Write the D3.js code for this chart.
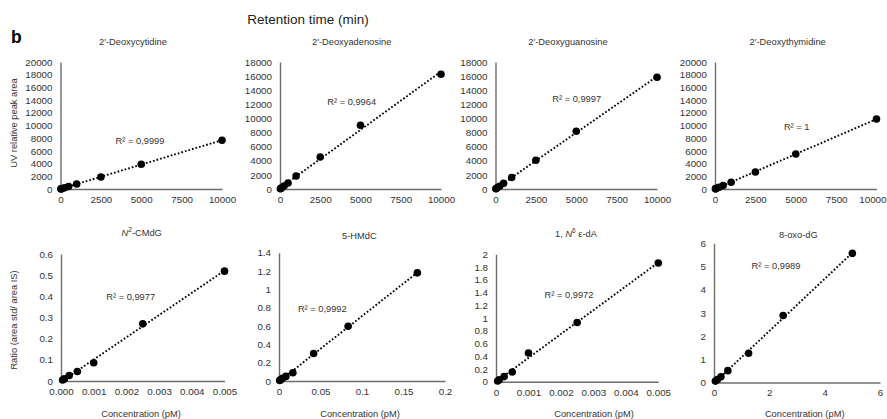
<!DOCTYPE html>
<html><head><meta charset="utf-8">
<script src="https://cdn.jsdelivr.net/npm/d3@7"></script>
<style>
body{margin:0;background:#fff}
text{font-family:"Liberation Sans",Arial,sans-serif}
</style>
</head><body>
<svg id="c" width="887" height="419"></svg>
<script>
// ---------- DATA ----------
const titles = ["2′-Deoxycytidine","2′-Deoxyadenosine","2′-Deoxyguanosine","2′-Deoxythymidine",
                "N²-CMdG","5-HMdC","1, N⁶ ε-dA","8-oxo-dG"];
const r2Labels = ["R² = 0,9999","R² = 0,9964","R² = 0,9997","R² = 1",
                  "R² = 0,9977","R² = 0,9992","R² = 0,9972","R² = 0,9989"];

const xTop = [25, 50, 100, 250, 500, 1000, 2500, 5000, 10000];
const yDC = [19, 38, 77, 190, 385, 790, 1890, 3890, 7670];
const yDA = [40, 80, 170, 420, 850, 1840, 4530, 9030, 16260];
const yDG = [40, 80, 160, 400, 800, 1620, 4070, 8180, 15830];
const yDT = [27, 55, 110, 275, 540, 1055, 2680, 5510, 11020];

const xCMdG = [0.00005, 0.0001, 0.00025, 0.0005, 0.001, 0.0025, 0.005];
const yCMdG = [0.005, 0.01, 0.026, 0.045, 0.086, 0.27, 0.519];
const xHMdC = [0.0008, 0.0017, 0.0042, 0.0083, 0.0167, 0.0417, 0.0833, 0.1667];
const yHMdC = [0.005, 0.012, 0.03, 0.05, 0.09, 0.30, 0.597, 1.18];
const xEdA = [0.00005, 0.0001, 0.00025, 0.0005, 0.001, 0.0025, 0.005];
const yEdA = [0.01, 0.03, 0.08, 0.152, 0.45, 0.93, 1.863];
const xOxo = [0.05, 0.125, 0.25, 0.5, 1.25, 2.5, 5];
const yOxo = [0.06, 0.13, 0.25, 0.51, 1.26, 2.886, 5.57];

const xTicksTop = [0, 2500, 5000, 7500, 10000];
const yTicks20k = [0,2000,4000,6000,8000,10000,12000,14000,16000,18000,20000];
const yTicks18k = [0,2000,4000,6000,8000,10000,12000,14000,16000,18000];
const xTicksCMdG = [0, 0.001, 0.002, 0.003, 0.004, 0.005];
const xLabelsCMdG = ["0.000","0.001","0.002","0.003","0.004","0.005"];
const yTicksCMdG = [0, 0.1, 0.2, 0.3, 0.4, 0.5, 0.6];
const xTicksHMdC = [0, 0.05, 0.1, 0.15, 0.2];
const yTicksHMdC = [0, 0.2, 0.4, 0.6, 0.8, 1, 1.2, 1.4];
const xTicksEdA = [0, 0.001, 0.002, 0.003, 0.004, 0.005];
const yTicksEdA = [0, 0.2, 0.4, 0.6, 0.8, 1, 1.2, 1.4, 1.6, 1.8, 2];
const xTicksOxo = [0, 2, 4, 6];
const yTicksOxo = [0, 1, 2, 3, 4, 5, 6];

const headerText = "Retention time (min)";
const panelLetter = "b";
const yLabelTop = "UV relative peak area";
const yLabelBottom = "Ratio (area std/ area IS)";
const xLabelBottom = "Concentration (pM)";

// ---------- PANELS (data binding) ----------
const panels = [
  {x: xTop, y: yDC, xd:[0,10000], yd:[0,20000], xt:xTicksTop, yt:yTicks20k},
  {x: xTop, y: yDA, xd:[0,10000], yd:[0,18000], xt:xTicksTop, yt:yTicks18k},
  {x: xTop, y: yDG, xd:[0,10000], yd:[0,18000], xt:xTicksTop, yt:yTicks18k},
  {x: xTop, y: yDT, xd:[0,10000], yd:[0,20000], xt:xTicksTop, yt:yTicks20k, lastFit:true},
  {x: xCMdG, y: yCMdG, xd:[0,0.005], yd:[0,0.6], xt:xTicksCMdG, xl:xLabelsCMdG, yt:yTicksCMdG},
  {x: xHMdC, y: yHMdC, xd:[0,0.2], yd:[0,1.4], xt:xTicksHMdC, yt:yTicksHMdC},
  {x: xEdA, y: yEdA, xd:[0,0.005], yd:[0,2], xt:xTicksEdA, yt:yTicksEdA},
  {x: xOxo, y: yOxo, xd:[0,6], yd:[0,6], xt:xTicksOxo, yt:yTicksOxo},
];

// ---------- LAYOUT ----------
const layout = [
  {x0:60.5, x1:222,   y0:189,   y1:62,    tx:133,   ty:45,  rx:140,   ry:144},
  {x0:280,  x1:441,   y0:189,   y1:62,    tx:351.7, ty:45,  rx:351.7, ry:105},
  {x0:495.5,x1:657,   y0:189,   y1:62,    tx:568,   ty:45,  rx:576.7, ry:102.3},
  {x0:715,  x1:876.5, y0:189,   y1:62,    tx:787.7, ty:45,  rx:796.7, ry:130.3},
  {x0:61,   x1:224.5, y0:381,   y1:254,   tx:141.7, ty:235.5, rx:130.7, ry:300, lx:141},
  {x0:279,  x1:445,   y0:381,   y1:252.7, tx:359.3, ty:239, rx:322.3, ry:312.3, lx:360},
  {x0:496,  x1:658.3, y0:381.7, y1:254.3, tx:576,   ty:236.5, rx:569, ry:298.3, lx:594},
  {x0:714,  x1:880,   y0:382.5, y1:243.3, tx:798.3, ty:238, rx:776, ry:269, lx:804.7},
];

const FS = 9.3, TFS = 9.8, TXT = "#333", AX = "#6e6e6e";
const svg = d3.select("#c");

svg.append("text").attr("x", 308).attr("y", 24).attr("text-anchor","middle")
  .attr("font-size", 13.5).attr("fill","#222").text(headerText);
svg.append("text").attr("x", 11).attr("y", 42.5).attr("font-size", 17.5)
  .attr("font-weight","bold").attr("fill","#000").text(panelLetter);

svg.append("text").attr("transform","translate(17,123) rotate(-90)").attr("text-anchor","middle")
  .attr("font-size", FS).attr("fill", TXT).text(yLabelTop);
svg.append("text").attr("transform","translate(17,320) rotate(-90)").attr("text-anchor","middle")
  .attr("font-size", FS).attr("fill", TXT).text(yLabelBottom);

function renderTitle(sel, s){
  const m = s.match(/^(.*?)N([²⁶])(.*)$/);
  if(!m){ sel.text(s); return; }
  const sup = m[2] === "²" ? "2" : "6";
  sel.append("tspan").text(m[1]);
  sel.append("tspan").attr("font-style","italic").text("N");
  sel.append("tspan").attr("font-size", FS*0.7).attr("dy", -3.5).text(sup);
  sel.append("tspan").attr("dy", 3.5).text(m[3]);
}

panels.forEach((p, i) => {
  const L = layout[i];
  const xs = d3.scaleLinear().domain(p.xd).range([L.x0, L.x1]);
  const ys = d3.scaleLinear().domain(p.yd).range([L.y0, L.y1]);
  const g = svg.append("g");

  // axes
  const xa = d3.axisBottom(xs).tickValues(p.xt).tickSize(0).tickSizeOuter(0).tickPadding(7)
    .tickFormat((d, k) => p.xl ? p.xl[k] : String(d));
  const ya = d3.axisLeft(ys).tickValues(p.yt).tickSize(0).tickSizeOuter(0).tickPadding(8)
    .tickFormat(d => String(d));
  const gx = g.append("g").attr("transform", `translate(0,${L.y0})`).call(xa);
  const gy = g.append("g").attr("transform", `translate(${L.x0},0)`).call(ya);
  [gx, gy].forEach(a => {
    a.select(".domain").attr("stroke", AX).attr("stroke-width", 1.4);
    a.selectAll("text").attr("font-size", TFS).attr("fill", TXT)
      .attr("font-family", '"Liberation Sans",Arial,sans-serif');
  });
  if (p.lastFit){
    // keep the last x label inside the picture edge
    gx.selectAll(".tick").filter((d, k, n) => k === n.length - 1).select("text")
      .attr("text-anchor", "end").attr("x", 886 - xs(p.xd[1]));
  }

  // trendline (least squares through data)
  const n = p.x.length;
  const mx = d3.mean(p.x), my = d3.mean(p.y);
  let sxy = 0, sxx = 0;
  for (let k = 0; k < n; k++){ sxy += (p.x[k]-mx)*(p.y[k]-my); sxx += (p.x[k]-mx)**2; }
  const b = sxy / sxx, a = my - b*mx;
  const xmin = d3.min(p.x), xmax = d3.max(p.x);
  g.append("line")
    .attr("x1", xs(xmin)).attr("y1", ys(a + b*xmin))
    .attr("x2", xs(xmax)).attr("y2", ys(a + b*xmax))
    .attr("stroke", "#000").attr("stroke-width", 1.9).attr("stroke-dasharray", "1.7,2");

  // points
  g.selectAll("circle").data(p.x.map((v, k) => [v, p.y[k]])).join("circle")
    .attr("cx", d => xs(d[0])).attr("cy", d => ys(d[1])).attr("r", 3.8).attr("fill", "#000");

  // title
  const t = g.append("text").attr("x", L.tx).attr("y", L.ty).attr("text-anchor","middle")
    .attr("font-size", FS).attr("fill", TXT);
  renderTitle(t, titles[i]);

  // R2
  g.append("text").attr("x", L.rx).attr("y", L.ry).attr("text-anchor","middle")
    .attr("font-size", FS).attr("fill", TXT).text(r2Labels[i]);

  if (L.lx !== undefined){
    g.append("text").attr("x", L.lx).attr("y", 416.5).attr("text-anchor","middle")
      .attr("font-size", FS).attr("fill", TXT).text(xLabelBottom);
  }
});
</script>
</body></html>
